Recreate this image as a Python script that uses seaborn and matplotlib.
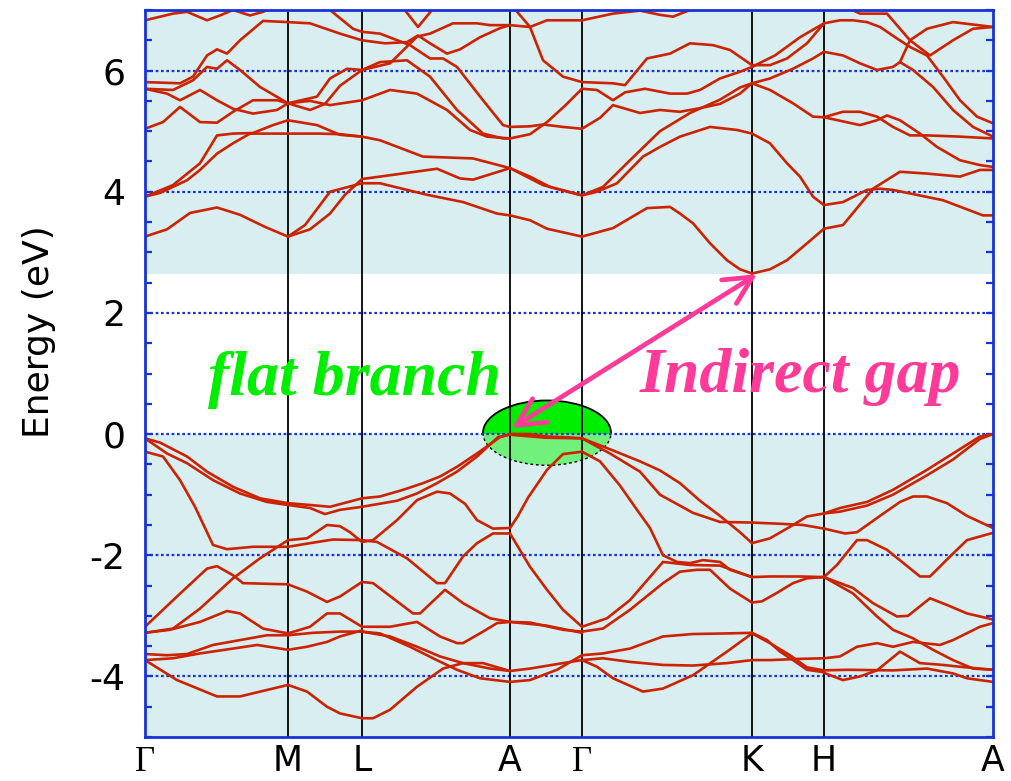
import numpy as np
import pandas as pd
import matplotlib
matplotlib.use("Agg")
import matplotlib.pyplot as plt
from matplotlib.patches import Ellipse, Rectangle
import seaborn as sns

sns.set_theme(style="white")
plt.rcParams["font.family"] = ["DejaVu Sans"]
plt.rcParams["axes.unicode_minus"] = False
plt.rcParams["text.color"] = "black"
plt.rcParams["axes.labelcolor"] = "black"

# ---- high-symmetry path -------------------------------------------------
kpt_labels = ["Γ", "M", "L", "A", "Γ", "K", "H", "A"]
kpt_pos = [0.0, 1.43, 2.17, 3.65, 4.37, 6.07, 6.79, 8.48]

e_min, e_max = -5.0, 7.0
vbm = 0.0      # valence band maximum (flat A-Γ branch)
cbm = 2.65     # conduction band minimum at K
energy_ticks = [-4, -2, 0, 2, 4, 6]

# ---- valence bands: (k, E) per path segment ------------------------------
vb_GM = [
    [(0, -0.07), (.15, -0.14), (.42, -0.37), (.62, -0.62), (.88, -0.87), (1.15, -1.06), (1.43, -1.14)],
    [(0, -0.07), (.22, -0.32), (.42, -0.48), (.68, -0.76), (.95, -0.98), (1.22, -1.12), (1.43, -1.17)],
    [(0, -0.29), (.18, -0.37), (.35, -0.76), (.50, -1.20), (.68, -1.83), (.82, -1.90), (1.08, -1.86), (1.43, -1.86)],
    [(0, -3.18), (.32, -2.68), (.62, -2.22), (.72, -2.18), (.88, -2.33), (.98, -2.46), (1.43, -2.48)],
    [(0, -3.28), (.28, -3.21), (.55, -2.88), (.88, -2.38), (1.15, -2.05), (1.43, -1.75)],
    [(0, -3.28), (.25, -3.23), (.55, -3.10), (.82, -2.92), (.95, -2.96), (1.18, -3.21), (1.43, -3.29)],
    [(0, -3.63), (.22, -3.65), (.42, -3.63), (.68, -3.48), (.95, -3.40), (1.22, -3.32), (1.43, -3.32)],
    [(0, -3.73), (.28, -3.70), (.55, -3.62), (.88, -3.54), (1.12, -3.48), (1.43, -3.56)],
    [(0, -3.73), (.32, -4.06), (.72, -4.33), (.95, -4.33), (1.43, -4.14)],
]
vb_ML = [
    [(1.43, -1.14), (1.65, -1.17), (1.85, -1.20), (2.17, -1.06)],
    [(1.43, -1.17), (1.65, -1.22), (1.80, -1.32), (1.95, -1.25), (2.17, -1.20)],
    [(1.43, -1.86), (1.65, -1.80), (1.88, -1.74), (2.17, -1.75)],
    [(1.43, -1.75), (1.62, -1.72), (1.82, -1.50), (1.95, -1.52), (2.05, -1.62), (2.17, -1.78)],
    [(1.43, -2.48), (1.62, -2.60), (1.82, -2.77), (1.95, -2.68), (2.17, -2.44)],
    [(1.43, -3.29), (1.65, -3.18), (1.82, -2.96), (1.95, -2.96), (2.17, -3.18)],
    [(1.43, -3.32), (1.68, -3.28), (1.95, -3.26), (2.17, -3.26)],
    [(1.43, -3.56), (1.62, -3.51), (1.82, -3.43), (1.95, -3.34), (2.17, -3.24)],
    [(1.43, -4.14), (1.62, -4.25), (1.82, -4.50), (1.95, -4.61), (2.17, -4.69)],
]
vb_LA = [
    [(2.17, -1.06), (2.35, -1.03), (2.58, -0.92), (2.78, -0.81), (2.95, -0.70), (3.12, -0.54), (3.32, -0.32), (3.55, -0.05), (3.65, 0.0)],
    [(2.17, -1.20), (2.52, -1.10), (2.72, -0.98), (2.92, -0.81), (3.12, -0.62), (3.32, -0.37), (3.53, -0.05), (3.65, -0.01)],
    [(2.17, -1.78), (2.28, -1.75), (2.52, -1.42), (2.72, -1.09), (2.92, -0.95), (3.05, -0.98), (3.20, -1.15), (3.32, -1.42), (3.48, -1.56), (3.65, -1.55)],
    [(2.17, -1.75), (2.32, -1.78), (2.62, -2.05), (2.92, -2.46), (3.00, -2.46), (3.18, -2.02), (3.32, -1.80), (3.48, -1.64), (3.65, -1.64)],
    [(2.17, -2.44), (2.28, -2.46), (2.68, -2.96), (2.75, -2.96), (3.00, -2.57), (3.18, -2.79), (3.45, -3.04), (3.65, -3.10)],
    [(2.17, -3.18), (2.45, -3.18), (2.72, -3.10), (2.95, -3.34), (3.12, -3.45), (3.18, -3.45), (3.38, -3.26), (3.52, -3.12), (3.65, -3.10)],
    [(2.17, -3.26), (2.45, -3.34), (2.72, -3.51), (2.95, -3.67), (3.18, -3.78), (3.45, -3.87), (3.65, -3.91)],
    [(2.17, -3.26), (2.35, -3.29), (2.65, -3.51), (2.88, -3.70), (3.12, -3.89), (3.35, -4.03), (3.65, -4.09)],
    [(2.17, -4.69), (2.28, -4.69), (2.45, -4.55), (2.72, -4.17), (2.98, -3.87), (3.18, -3.78), (3.38, -3.78), (3.65, -3.91)],
]
vb_AG = [
    [(3.65, 0.0), (3.85, 0.0), (4.02, -0.04), (4.18, -0.05), (4.37, -0.07)],
    [(3.65, -0.01), (4.01, -0.06), (4.37, -0.07)],
    [(3.65, -1.55), (3.73, -1.35), (3.83, -1.05), (4.02, -0.59), (4.18, -0.33), (4.37, -0.29)],
    [(3.65, -1.64), (3.85, -2.19), (4.02, -2.57), (4.18, -2.90), (4.37, -3.18)],
    [(3.65, -3.10), (3.85, -3.11), (4.18, -3.23), (4.37, -3.26)],
    [(3.65, -3.10), (4.01, -3.16), (4.37, -3.28)],
    [(3.65, -3.91), (3.85, -3.87), (4.18, -3.78), (4.37, -3.73)],
    [(3.65, -4.09), (3.85, -4.06), (4.12, -3.89), (4.37, -3.65)],
]
vb_GK = [
    [(4.37, -0.07), (4.65, -0.25), (4.95, -0.45), (5.15, -0.60), (5.35, -0.81), (5.55, -1.10), (5.75, -1.35), (5.95, -1.62), (6.07, -1.80)],
    [(4.37, -0.07), (4.65, -0.32), (4.95, -0.62), (5.15, -1.00), (5.48, -1.30), (5.75, -1.45), (6.07, -1.46)],
    [(4.37, -0.29), (4.55, -0.45), (4.75, -0.85), (4.92, -1.25), (5.05, -1.55), (5.18, -2.00), (5.32, -2.11), (5.45, -2.13), (5.58, -2.08), (5.75, -2.11), (5.85, -2.24), (6.07, -2.36)],
    [(4.37, -3.18), (4.62, -3.04), (4.85, -2.74), (5.18, -2.11), (5.45, -2.16), (5.75, -2.17), (6.07, -2.36)],
    [(4.37, -3.26), (4.58, -3.21), (4.85, -2.90), (5.18, -2.46), (5.35, -2.27), (5.52, -2.24), (5.65, -2.24), (5.85, -2.55), (6.07, -2.78)],
    [(4.37, -3.65), (4.58, -3.62), (4.85, -3.54), (5.18, -3.34), (5.48, -3.30), (5.82, -3.29), (6.07, -3.28)],
    [(4.37, -3.73), (4.58, -3.70), (4.85, -3.76), (5.18, -3.81), (5.48, -3.82), (5.82, -3.78), (6.07, -3.73)],
    [(4.37, -3.73), (4.52, -3.84), (4.68, -4.03), (4.98, -4.25), (5.18, -4.20), (5.48, -3.98), (5.82, -3.59), (6.07, -3.29)],
]
vb_KH = [
    [(6.07, -1.46), (6.35, -1.48), (6.58, -1.50), (6.79, -1.56)],
    [(6.07, -1.80), (6.25, -1.72), (6.45, -1.53), (6.62, -1.36), (6.79, -1.31)],
    [(6.07, -2.36), (6.25, -2.35), (6.55, -2.35), (6.79, -2.36)],
    [(6.07, -2.78), (6.17, -2.76), (6.32, -2.62), (6.48, -2.46), (6.62, -2.38), (6.79, -2.36)],
    [(6.07, -3.28), (6.22, -3.40), (6.35, -3.59), (6.48, -3.73), (6.62, -3.89), (6.79, -3.93)],
    [(6.07, -3.73), (6.25, -3.73), (6.55, -3.71), (6.79, -3.70)],
    [(6.07, -3.29), (6.25, -3.45), (6.45, -3.65), (6.62, -3.85), (6.79, -3.90)],
]
vb_HA = [
    [(6.79, -1.31), (6.95, -1.22), (7.22, -1.12), (7.48, -0.92), (7.82, -0.59), (8.08, -0.32), (8.35, -0.04), (8.48, 0.0)],
    [(6.79, -1.31), (6.95, -1.28), (7.22, -1.18), (7.48, -1.00), (7.82, -0.68), (8.08, -0.42), (8.35, -0.08), (8.48, 0.0)],
    [(6.79, -1.56), (7.00, -1.64), (7.12, -1.62), (7.35, -1.35), (7.55, -1.12), (7.68, -1.03), (7.82, -1.03), (8.02, -1.14), (8.22, -1.35), (8.48, -1.55)],
    [(6.79, -2.36), (6.92, -2.16), (7.12, -1.75), (7.22, -1.75), (7.42, -1.91), (7.75, -2.35), (7.85, -2.35), (8.05, -2.02), (8.22, -1.75), (8.48, -1.63)],
    [(6.79, -2.36), (7.08, -2.54), (7.28, -2.79), (7.52, -3.01), (7.63, -3.00), (7.85, -2.71), (8.02, -2.82), (8.22, -2.96), (8.48, -3.06)],
    [(6.79, -2.36), (7.08, -2.63), (7.32, -3.01), (7.48, -3.23), (7.68, -3.37), (7.88, -3.56), (8.08, -3.73), (8.28, -3.87), (8.48, -3.89)],
    [(6.79, -3.70), (6.95, -3.67), (7.12, -3.51), (7.32, -3.45), (7.48, -3.51), (7.68, -3.43), (7.95, -3.48), (8.08, -3.40), (8.35, -3.18), (8.48, -3.12)],
    [(6.79, -3.94), (6.98, -4.06), (7.15, -4.00), (7.32, -3.90), (7.55, -3.59), (7.75, -3.78), (7.98, -3.81), (8.15, -3.84), (8.48, -3.89)],
    [(6.79, -3.90), (7.02, -3.89), (7.48, -3.90), (7.82, -3.87), (8.08, -3.95), (8.22, -4.03), (8.48, -4.09)],
]

# ---- conduction bands ---------------------------------------------------
cb_GM = [
    [(0, 3.26), (.22, 3.38), (.45, 3.65), (.72, 3.74), (.95, 3.62), (1.20, 3.42), (1.43, 3.26)],
    [(0, 3.92), (.15, 3.98), (.42, 4.19), (.55, 4.36), (.72, 4.63), (.88, 4.80), (1.05, 4.96), (1.43, 4.96)],
    [(0, 3.92), (.28, 4.11), (.55, 4.47), (.72, 4.93), (.88, 4.96), (1.08, 4.97), (1.28, 5.10), (1.43, 5.18)],
    [(0, 5.04), (.18, 5.15), (.35, 5.40), (.55, 5.15), (.72, 5.14), (.88, 5.32), (1.08, 5.51), (1.32, 5.51), (1.43, 5.46)],
    [(0, 5.70), (.22, 5.62), (.35, 5.51), (.55, 5.68), (.72, 5.51), (.88, 5.37), (1.08, 5.29), (1.32, 5.35), (1.43, 5.46)],
    [(0, 5.70), (.28, 5.68), (.48, 5.84), (.62, 6.06), (.72, 6.03), (.82, 6.17), (.95, 6.01), (1.15, 5.73), (1.43, 5.46)],
    [(0, 5.81), (.35, 5.79), (.48, 5.90), (.62, 6.25), (.72, 6.35), (.82, 6.28), (.95, 6.50), (1.18, 6.82), (1.43, 6.80)],
    [(0, 6.83), (.28, 6.94), (.42, 6.97), (.62, 6.83), (.75, 6.91), (.88, 7.0), (1.05, 6.91), (1.18, 6.97), (1.35, 7.1)],
]
cb_ML = [
    [(1.43, 3.26), (1.65, 3.38), (1.85, 3.64), (2.00, 3.95), (2.17, 4.21)],
    [(1.43, 3.26), (1.60, 3.45), (1.85, 4.00), (2.17, 4.14)],
    [(1.43, 4.96), (1.75, 4.96), (1.95, 4.95), (2.17, 4.91)],
    [(1.43, 5.18), (1.72, 5.10), (1.95, 4.94), (2.17, 4.91)],
    [(1.43, 5.46), (1.65, 5.50), (1.85, 5.43), (2.17, 5.51)],
    [(1.43, 5.46), (1.72, 5.57), (1.85, 5.87), (2.02, 6.03), (2.17, 6.01)],
    [(1.43, 5.46), (1.65, 5.35), (1.80, 5.45), (1.95, 5.75), (2.17, 6.01)],
    [(1.43, 6.80), (1.65, 6.78), (1.95, 6.61), (2.17, 6.50)],
    [(1.55, 7.10), (1.85, 7.00), (2.08, 6.69), (2.17, 6.64)],
]
cb_LA = [
    [(2.17, 4.21), (2.35, 4.25), (2.92, 4.38), (3.15, 4.22), (3.28, 4.20), (3.65, 4.39)],
    [(2.17, 4.14), (2.35, 4.14), (2.82, 3.95), (3.18, 3.83), (3.52, 3.64), (3.65, 3.61)],
    [(2.17, 4.91), (2.35, 4.85), (2.78, 4.58), (3.28, 4.55), (3.65, 4.39)],
    [(2.17, 5.51), (2.45, 5.68), (2.72, 5.62), (3.02, 5.35), (3.25, 5.02), (3.42, 4.91), (3.65, 4.88)],
    [(2.17, 6.01), (2.35, 6.14), (2.62, 6.17), (2.85, 5.90), (3.12, 5.35), (3.38, 4.96), (3.58, 4.88), (3.65, 4.88)],
    [(2.17, 6.01), (2.45, 6.12), (2.72, 6.56), (2.85, 6.61), (3.08, 6.78), (3.32, 6.78), (3.45, 6.75), (3.65, 6.75)],
    [(2.17, 6.50), (2.40, 6.45), (2.62, 6.47), (2.73, 6.58), (2.85, 6.45), (3.02, 6.28), (3.15, 6.35), (3.35, 6.55), (3.55, 6.70), (3.65, 6.75)],
    [(2.17, 6.64), (2.35, 6.61), (2.65, 6.42), (2.85, 6.20), (2.98, 6.20), (3.12, 6.06), (3.38, 5.51), (3.58, 5.10), (3.65, 5.07)],
    [(2.55, 7.10), (2.73, 6.72), (2.92, 7.10)],
]
cb_AG = [
    [(3.65, 3.61), (3.85, 3.53), (4.02, 3.39), (4.37, 3.26)],
    [(3.65, 4.39), (3.85, 4.25), (4.05, 4.08), (4.37, 3.94)],
    [(3.65, 4.39), (3.98, 4.11), (4.37, 3.94)],
    [(3.65, 4.88), (3.85, 4.95), (4.02, 5.15), (4.20, 5.42), (4.37, 5.70)],
    [(3.65, 5.07), (3.85, 5.08), (3.98, 5.11), (4.18, 5.07), (4.37, 5.04)],
    [(3.65, 6.75), (3.85, 6.72), (4.02, 6.83), (4.37, 6.83)],
    [(3.68, 7.05), (3.85, 6.72), (3.98, 6.17), (4.18, 5.90), (4.37, 5.81)],
]
cb_GK = [
    [(4.37, 3.26), (4.68, 3.40), (5.02, 3.73), (5.25, 3.75), (5.35, 3.64), (5.48, 3.48), (5.65, 3.15), (5.82, 2.87), (5.95, 2.72), (6.07, 2.65)],
    [(4.37, 3.94), (4.52, 4.00), (4.72, 4.14), (4.98, 4.58), (5.15, 4.74), (5.35, 4.91), (5.65, 5.07), (5.92, 5.02), (6.07, 4.96)],
    [(4.37, 3.94), (4.58, 4.08), (4.85, 4.52), (5.15, 5.00), (5.45, 5.30), (5.75, 5.52), (5.95, 5.72), (6.07, 5.79)],
    [(4.37, 5.04), (4.55, 5.22), (4.68, 5.43), (4.95, 5.30), (5.15, 5.35), (5.35, 5.32), (5.55, 5.38), (5.75, 5.45), (5.95, 5.62), (6.07, 5.79)],
    [(4.37, 5.70), (4.52, 5.68), (4.68, 5.51), (4.80, 5.64), (5.00, 5.70), (5.25, 5.62), (5.42, 5.62), (5.55, 5.68), (5.75, 5.87), (5.95, 5.98), (6.07, 6.06)],
    [(4.37, 5.81), (4.68, 5.79), (4.80, 5.76), (5.02, 6.20), (5.25, 6.28), (5.45, 6.45), (5.68, 6.42), (5.85, 6.34), (6.07, 6.09)],
    [(4.37, 6.83), (4.68, 6.94), (4.95, 6.99), (5.15, 6.92), (5.28, 6.89), (5.45, 7.00), (5.60, 7.10)],
]
cb_KH = [
    [(6.07, 2.65), (6.25, 2.72), (6.42, 2.87), (6.60, 3.12), (6.79, 3.39)],
    [(6.07, 4.96), (6.25, 4.80), (6.42, 4.47), (6.55, 4.25), (6.68, 3.92), (6.79, 3.78)],
    [(6.07, 5.79), (6.25, 5.68), (6.48, 5.46), (6.68, 5.24), (6.79, 5.23)],
    [(6.07, 5.79), (6.25, 5.87), (6.48, 6.03), (6.68, 6.20), (6.79, 6.31)],
    [(6.07, 6.09), (6.25, 6.09), (6.42, 6.20), (6.62, 6.45), (6.79, 6.78)],
    [(6.07, 6.06), (6.30, 6.25), (6.55, 6.55), (6.79, 6.78)],
]
cb_HA = [
    [(6.79, 3.39), (6.98, 3.45), (7.28, 4.05), (7.55, 4.33), (7.82, 4.30), (8.15, 4.25), (8.35, 4.36), (8.48, 4.36)],
    [(6.79, 3.78), (6.98, 3.83), (7.22, 4.03), (7.35, 4.05), (7.48, 4.03), (7.98, 3.86), (8.38, 3.61), (8.48, 3.61)],
    [(6.79, 5.23), (6.98, 5.32), (7.15, 5.32), (7.32, 5.24), (7.48, 5.07), (7.65, 4.93), (7.82, 4.93), (8.15, 4.91), (8.48, 4.88)],
    [(6.79, 5.23), (7.15, 5.10), (7.32, 5.18), (7.42, 5.26), (7.55, 5.18), (7.75, 4.96), (7.92, 4.74), (8.15, 4.52), (8.35, 4.44), (8.48, 4.41)],
    [(6.79, 6.31), (6.98, 6.25), (7.15, 6.12), (7.32, 6.01), (7.48, 6.06), (7.55, 6.14), (7.68, 6.01), (7.88, 5.73), (8.08, 5.35), (8.28, 5.07), (8.48, 4.91)],
    [(6.79, 6.78), (6.95, 6.83), (7.08, 6.83), (7.22, 6.80), (7.35, 6.72), (7.52, 6.53), (7.65, 6.39), (7.82, 6.25), (7.98, 5.90), (8.15, 5.51), (8.32, 5.24), (8.48, 5.13)],
    [(6.95, 7.10), (7.15, 6.94), (7.42, 6.94), (7.65, 6.50), (7.85, 6.25), (8.08, 6.50), (8.28, 6.69), (8.48, 6.72)],
    [(7.55, 6.14), (7.65, 6.50), (7.82, 6.69), (8.08, 6.80), (8.48, 6.72)],
]

segments = [vb_GM, vb_ML, vb_LA, vb_AG, vb_GK, vb_KH, vb_HA,
            cb_GM, cb_ML, cb_LA, cb_AG, cb_GK, cb_KH, cb_HA]

rows = []
piece_id = 0
for seg in segments:
    for piece in seg:
        for k, e in piece:
            rows.append({"k": k, "E": e, "piece": piece_id})
        piece_id += 1
bands = pd.DataFrame(rows)

# ---- colours -------------------------------------------------------------
band_red = "#cc2200"
frame_blue = "#1733d8"
shade = "#d8eef0"
green = "#00ee00"
pink = "#ff3a98"

fig = plt.figure(figsize=(10.12, 7.81), dpi=100)
ax = fig.add_axes([0.1433, 0.0563, 0.8379, 0.9309])
ax.set_xlim(kpt_pos[0], kpt_pos[-1])
ax.set_ylim(e_min, e_max)

# filled (allowed) energy regions
ax.axhspan(cbm, e_max + 1, color=shade, lw=0, zorder=0)
ax.axhspan(e_min - 1, vbm, color=shade, lw=0, zorder=0)

# flat-branch ellipse: solid above the VBM, lighter below
ell_c, ell_w, ell_h = (4.02, 0.02), 1.28, 1.07
upper_clip = Rectangle((3.0, 0.0), 2.0, 2.0, transform=ax.transData)
lower_clip = Rectangle((3.0, -2.0), 2.0, 2.0, transform=ax.transData)
e_low = Ellipse(ell_c, ell_w, ell_h, facecolor="#72f07c", edgecolor="none", zorder=1)
ax.add_patch(e_low)
e_low.set_clip_path(lower_clip)
e_up = Ellipse(ell_c, ell_w, ell_h, facecolor=green, edgecolor="none", zorder=1)
ax.add_patch(e_up)
e_up.set_clip_path(upper_clip)
o_up = Ellipse(ell_c, ell_w, ell_h, facecolor="none", edgecolor="black", lw=1.3, zorder=1.5)
ax.add_patch(o_up)
o_up.set_clip_path(upper_clip)
o_low = Ellipse(ell_c, ell_w, ell_h, facecolor="none", edgecolor="black", lw=1.0,
                linestyle=(0, (2, 2)), zorder=1.5)
ax.add_patch(o_low)
o_low.set_clip_path(lower_clip)

# dotted reference lines every 2 eV
for y in energy_ticks:
    ax.axhline(y, color=frame_blue, lw=1.6, linestyle=(0, (1.2, 1.2)), zorder=2)

# high-symmetry verticals
for x in kpt_pos[1:-1]:
    ax.axvline(x, color="black", lw=1.3, zorder=2)

# bands
sns.lineplot(data=bands, x="k", y="E", units="piece", estimator=None, sort=False,
             color=band_red, lw=1.9, ax=ax, zorder=3, legend=False)

# indirect-gap arrow between flat branch and K minimum
ax.annotate("", xy=(6.12, 2.64), xytext=(3.67, 0.10),
            arrowprops=dict(arrowstyle="<->,head_length=1.0,head_width=0.5",
                            color=pink, lw=3.4, shrinkA=0, shrinkB=0,
                            mutation_scale=20),
            zorder=4)

ax.text(0.63, 0.64, "flat branch", color=green, fontsize=46, fontweight="bold",
        fontstyle="italic", family="Liberation Serif", ha="left", va="baseline", zorder=5)
ax.text(4.95, 0.70, "Indirect gap", color=pink, fontsize=46, fontweight="bold",
        fontstyle="italic", family="Liberation Serif", ha="left", va="baseline", zorder=5)

# axes styling
for side in ["left", "right", "top", "bottom"]:
    ax.spines[side].set_color(frame_blue)
    ax.spines[side].set_linewidth(2.0)
    ax.spines[side].set_zorder(6)

ax.set_yticks(energy_ticks)
ax.set_yticklabels([str(t) for t in energy_ticks])
ax.set_yticks(np.arange(e_min, e_max + 0.01, 0.5), minor=True)
ax.tick_params(axis="y", which="both", direction="in", left=True, right=True,
               length=5, width=1.6, color=frame_blue, labelsize=26, pad=14,
               labelcolor="black")
ax.set_xticks(kpt_pos)
ax.set_xticklabels([])
ax.tick_params(axis="x", which="both", length=0)
ax.set_xlabel("")
ax.set_ylabel("Energy (eV)", fontsize=26, color="black")
ax.yaxis.set_label_coords(-0.105, 0.557)

for x, lab in zip(kpt_pos, kpt_labels):
    fam = ["Liberation Serif"] if lab == "Γ" else ["DejaVu Sans"]
    ax.text(x, -5.56, lab, ha="center", va="baseline", fontsize=25, family=fam,
            color="black", transform=ax.transData, clip_on=False)

fig.savefig("out.png", dpi=100)
